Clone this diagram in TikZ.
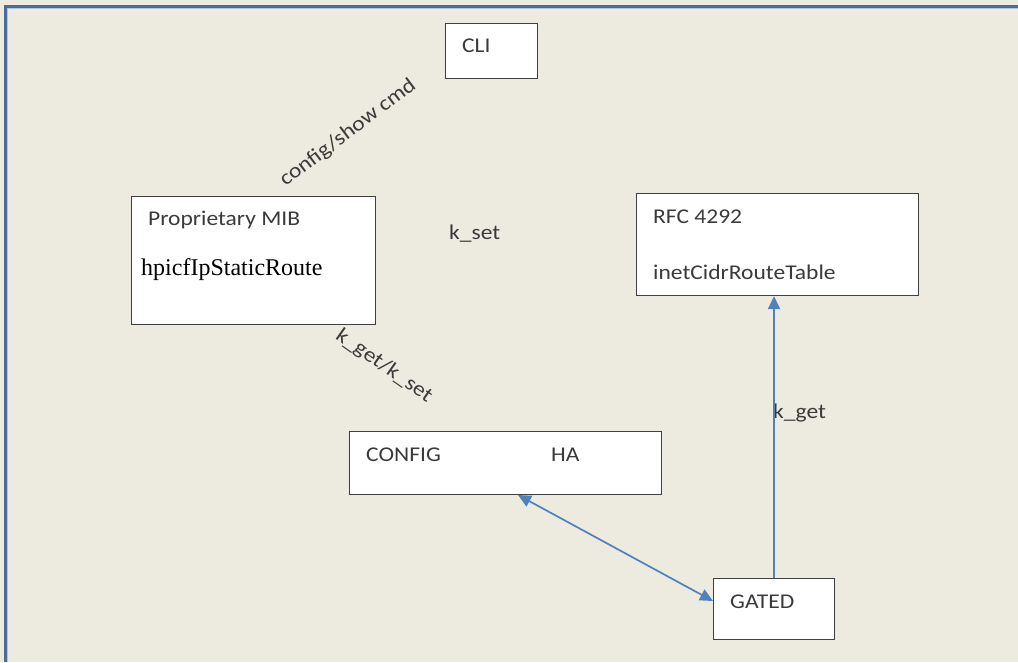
\documentclass[tikz,border=0pt]{standalone}
\usepackage{fontspec}
\setmainfont{Carlito}[FakeStretch=1.12]
\newfontfamily\mibfont{Liberation Serif}
\usetikzlibrary{positioning, arrows.meta}
\definecolor{paper}{HTML}{EDEBE0}
\definecolor{framecol}{HTML}{4A6C9B}
\definecolor{linkcol}{HTML}{4F81BD}
\definecolor{txtcol}{HTML}{3A3A3A}
\tikzset{
  box/.style={draw=black!75, line width=1.1pt, fill=white, anchor=north west, inner sep=0pt},
  lbl/.style={font=\fontsize{21}{23}\selectfont, text=txtcol, anchor=west, inner sep=0pt},
  tip/.style={arrows={-Triangle[length=13pt, width=12pt]}},
  link/.style={draw=linkcol, line width=1.7pt, tip},
}

\begin{document}
\begin{tikzpicture}[x=1pt, y=-1pt]
            \useasboundingbox (0,0) rectangle (1018,662);
            \fill[paper] (0,0) rectangle (1018,662);
            \draw[framecol, line width=3pt] (5,662) -- (5,6) -- (1018,6);
            \draw[framecol!40, line width=1pt] (7.5,662) -- (7.5,8.5) -- (1018,8.5);
            % boxes
            \foreach \nm/\x/\y/\w/\h in {cli/445/23/92/55,
                                         mib/131/196/244/128,
                                         rfc/636/193/282/102,
                                         config/349/431/312/63,
                                         gated/713/578/121/61} {
                \node[box, minimum width=\w pt, minimum height=\h pt] (\nm) at (\x,\y) {};
            }
            \node[lbl] (clit) at (462,46) {CLI};
            \node[lbl] (mibt) at (148,220) {Proprietary MIB};
            \node[lbl, font=\mibfont\fontsize{24}{26}\selectfont, text=black] (mibtbl) at (141,270) {hpicfIpStaticRoute};
            \node[lbl] (rfct) at (653,217) {RFC 4292};
            \node[lbl] (rfctbl) at (653,272) {inetCidrRouteTable};
            \node[lbl] (configt) at (366,455) {CONFIG};
            \node[lbl] (hat) at (551,455) {HA};
            \node[lbl] (gatedt) at (730,602) {GATED};
            % connector labels
            \node[lbl, anchor=center, rotate=37] (cmdlbl) at (348,133) {config/show cmd};
            \node[lbl] (ksetlbl) at (449,234) {k\_set};
            \node[lbl, anchor=center, rotate=-35] (kgetsetlbl) at (384,366) {k\_get/k\_set};
            \node[lbl] (kgetlbl) at (773,413) {k\_get};
            % connectors
            \coordinate (cfgport) at (518,495);
            \coordinate (gport) at (713,601);
            \draw[link, arrows={Triangle[length=13pt, width=12pt]-Triangle[length=13pt, width=12pt]}] (cfgport) -- (gport);
            \draw[link] (gated.north) -- (gated.north |- rfc.south);
        \end{tikzpicture}
\end{document}
